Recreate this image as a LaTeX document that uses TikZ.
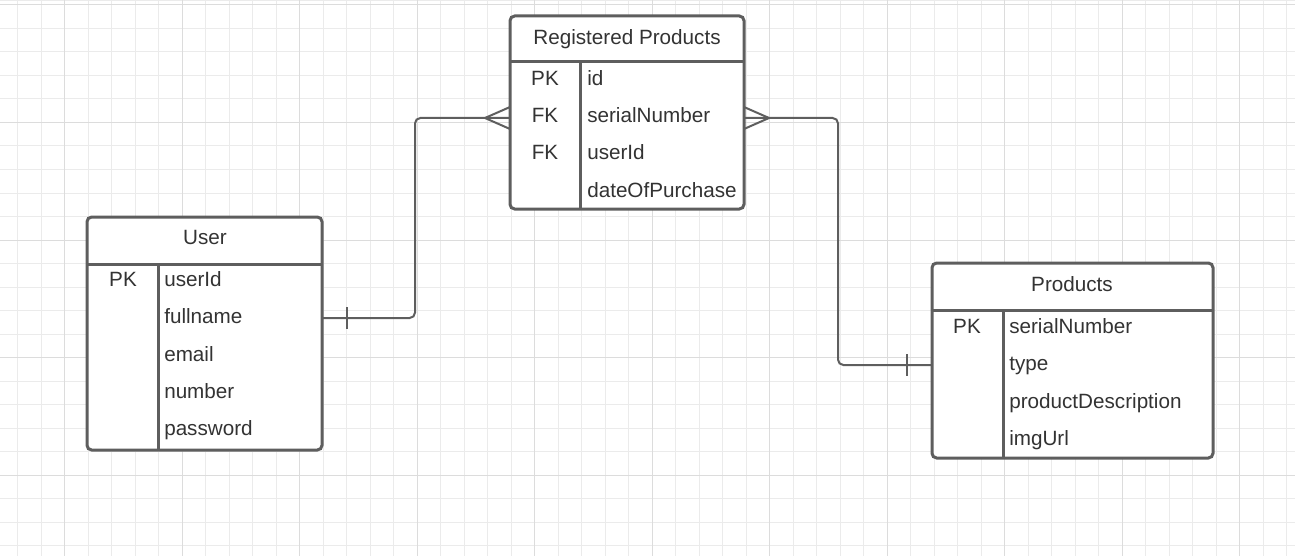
\documentclass[tikz,border=0pt]{standalone}
\usepackage{fontspec}
\setmainfont{Liberation Sans}
\usetikzlibrary{positioning,fit}
\definecolor{erline}{HTML}{5E5E5E}
\definecolor{ertext}{HTML}{333333}
\definecolor{gridminor}{HTML}{EBEBEB}
\definecolor{gridmajor}{HTML}{DCDCDC}
\tikzset{
  entity/.style={draw=erline, line width=2.25pt, rounded corners=3.5pt, fill=white, inner sep=0pt, outer sep=0pt},
  sep/.style={draw=erline, line width=2.25pt},
  rel/.style={draw=erline, line width=1.5pt, rounded corners=4pt},
  head/.style={text=ertext, font=\fontsize{15.5pt}{18pt}\selectfont, text height=11pt, text depth=0pt, inner sep=0pt},
  field/.style={head, minimum height=27.6pt, text width=140pt, align=left},
  keyc/.style={head, minimum height=27.6pt, text width=40pt, align=center},
  gridfine/.style={draw=gridminor, line width=0.75pt},
  gridbold/.style={draw=gridmajor, line width=0.75pt}
}

\begin{document}
\begin{tikzpicture}[x=0.75pt, y=-0.75pt]

           \useasboundingbox (0,0) rectangle (1295,556);

           % background grid
           \draw[gridfine] (0,1) -- (1295,1);
           \foreach \i in {0,...,54} \draw[gridfine] ({17.5+23.5*\i},0) -- ++(0,556);
           \foreach \i in {0,...,23} \draw[gridfine] (0,{5+23.5*\i}) -- ++(1295,0);
           \foreach \i in {0,...,10} \draw[gridbold] ({64.5+117.5*\i},0) -- ++(0,556);
           \foreach \i in {0,...,4} \draw[gridbold] (0,{5+117.5*\i}) -- ++(1295,0);

           % tables
           \node (reg) [entity, fit={(510,16) (744,209)}] {};
           \node (user) [entity, fit={(87,217) (322,450)}] {};
           \node (prod) [entity, fit={(932,263) (1213,458)}] {};

           \draw[sep] ([shift={(0,46)}]reg.north west) -- ([shift={(0,46)}]reg.north east);
           \draw[sep] ([shift={(70,46)}]reg.north west) -- ([shift={(70,0)}]reg.south west);
           \draw[sep] ([shift={(0,47)}]user.north west) -- ([shift={(0,47)}]user.north east);
           \draw[sep] ([shift={(71,47)}]user.north west) -- ([shift={(71,0)}]user.south west);
           \draw[sep] ([shift={(0,47)}]prod.north west) -- ([shift={(0,47)}]prod.north east);
           \draw[sep] ([shift={(71,47)}]prod.north west) -- ([shift={(71,0)}]prod.south west);

           \node[head] (regT) at (627,37) {Registered Products};
           \node[head] (userT) at (205,237) {User};
           \node[head] (prodT) at (1072,284) {Products};

           % Registered Products
           \node[keyc] (regK1) at (545,78) {PK};
           \node[keyc] (regK2) [below=0pt of regK1] {FK};
           \node[keyc] (regK3) [below=0pt of regK2] {FK};
           \node[field, anchor=west] (rid) at (587,78) {id};
           \node[field] (rser) [below=0pt of rid] {serialNumber};
           \node[field] (ruid) [below=0pt of rser] {userId};
           \node[field] (rdate) [below=0pt of ruid] {dateOfPurchase};

           % User
           \node[keyc] (userK1) at (123,279) {PK};
           \node[field, anchor=west] (uid) at (164,279) {userId};
           \node[field] (uname) [below=0pt of uid] {fullname};
           \node[field] (umail) [below=0pt of uname] {email};
           \node[field] (unum) [below=0pt of umail] {number};
           \node[field] (upass) [below=0pt of unum] {password};

           % Products
           \node[keyc] (prodK1) at (967,326) {PK};
           \node[field, anchor=west] (pser) at (1009,326) {serialNumber};
           \node[field] (ptype) [below=0pt of pser] {type};
           \node[field] (pdesc) [below=0pt of ptype] {productDescription};
           \node[field] (pimg) [below=0pt of pdesc] {imgUrl};

           % relations
           \coordinate (fk) at (627,118);
           \coordinate (uj) at (415,318);
           \coordinate (pj) at (838,365);

           \draw[rel] (user.east |- uj) -- (uj) |- (reg.west |- fk);
           \draw[rel] (reg.east |- fk) -| (pj) -- (prod.west |- pj);

           \draw[rel] (reg.west |- fk) ++(-25,0) -- ++(25,-11) ++(-25,11) -- ++(25,11);
           \draw[rel] (reg.east |- fk) ++(25,0) -- ++(-25,-11) ++(25,11) -- ++(-25,11);
           \draw[rel] (user.east |- uj) ++(25,-11) -- ++(0,22);
           \draw[rel] (prod.west |- pj) ++(-25,-11) -- ++(0,22);

         \end{tikzpicture}
\end{document}
